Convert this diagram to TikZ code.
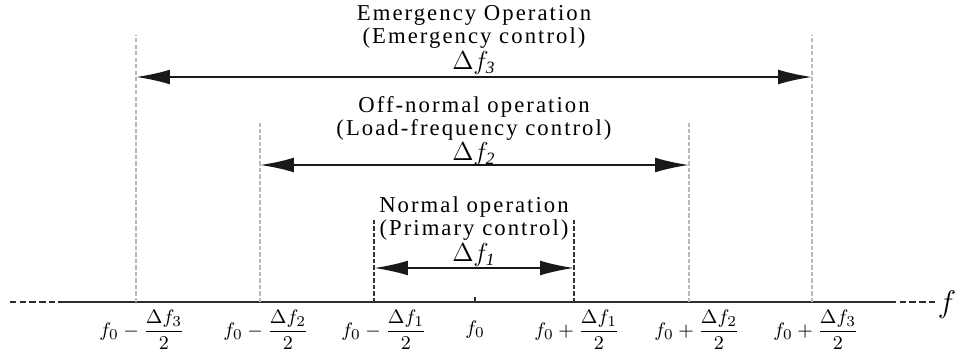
\documentclass[tikz,border=0pt]{standalone}
\usepackage{amsmath}
\usepackage{fontspec}
\setmainfont{Liberation Serif}
\usetikzlibrary{arrows.meta}
\newcommand{\hlf}[1]{\dfrac{\Delta f_{#1}}{2}}

\begin{document}
\begin{tikzpicture}[x=0.1625mm,y=0.1625mm,
   font=\fontsize{10.5}{10.6}\selectfont\addfontfeature{LetterSpace=9},
   axis/.style={line width=0.9pt,gray!35!black},
   outer/.style={gray!55,line width=1pt,dash pattern=on 2pt off 1pt},
   inner/.style={black!80,line width=0.5pt,dash pattern=on 2pt off 1pt},
   span/.style={line width=0.9pt,gray!20!black,{Latex[length=5.5mm,width=2.4mm]}-{Latex[length=5.5mm,width=2.4mm]}},
   hd/.style={inner sep=0pt,align=center,anchor=north},
   lab/.style={inner sep=0pt,font=\fontsize{9.5}{11}\selectfont}]
  \useasboundingbox (0,0) rectangle (960,354);
  % frequency axis
  \coordinate (ax0) at (10,52);
  \coordinate (ax1) at (58,52);
  \coordinate (ax2) at (890,52);
  \coordinate (ax3) at (935,52);
  \draw[axis,dash pattern=on 3pt off 1.5pt] (ax0)--(ax1);
  \draw[axis] (ax1)--(ax2);
  \draw[axis,dash pattern=on 3pt off 1.5pt] (ax2)--(ax3);
  \node[inner sep=0pt] (f) at (947,49){\Large$f$};
  % band limits on the axis
  \foreach \n/\x in {m3/136,m2/260,m1/374,f0/475,p1/574,p2/689,p3/812}
    \coordinate (b\n) at (\x,52);
  \coordinate (tm3) at (136,319); \coordinate (tp3) at (812,319);
  \coordinate (tm2) at (260,231); \coordinate (tp2) at (689,231);
  \coordinate (tm1) at (374,136); \coordinate (tp1) at (574,136);
  \coordinate (tf0) at (475,57);
  \draw[outer] (bm3)--(tm3); \draw[outer] (bp3)--(tp3);
  \draw[outer] (bm2)--(tm2); \draw[outer] (bp2)--(tp2);
  \draw[inner] (bm1)--(tm1); \draw[inner] (bp1)--(tp1);
  \draw[gray!35!black,line width=0.6pt] (bf0)--(tf0);
  % bands
  \coordinate (am3) at (136,277); \coordinate (ap3) at (812,277);
  \coordinate (am2) at (260,189); \coordinate (ap2) at (689,189);
  \coordinate (am1) at (374,86);  \coordinate (ap1) at (574,86);
  \draw[span] (am3)--(ap3);
  \draw[span] (am2)--(ap2);
  \draw[span] (am1)--(ap1);
  % headings
  \node[hd] (emg) at (474,349){Emergency Operation\\(Emergency control)\\[1.5pt]
    {\large$\Delta f_{\mathit{3}}$}};
  \node[hd] (off) at (474,258){Off-normal operation\\(Load-frequency control)\\[1pt]
    {\large$\Delta f_{\mathit{2}}$}};
  \node[hd] (nrm) at (474,158){Normal operation\\(Primary control)\\[1.5pt]
    {\large$\Delta f_{\mathit{1}}$}};
  % axis labels
  \node[lab] (lm3) at (142,24){$f_0-\hlf{3}$};
  \node[lab] (lm2) at (266,24){$f_0-\hlf{2}$};
  \node[lab] (lm1) at (384,24){$f_0-\hlf{1}$};
  \node[lab] (l0)  at (475,24){$f_0$};
  \node[lab] (lp1) at (577,24){$f_0+\hlf{1}$};
  \node[lab] (lp2) at (697,24){$f_0+\hlf{2}$};
  \node[lab] (lp3) at (816,24){$f_0+\hlf{3}$};
\end{tikzpicture}
\end{document}
